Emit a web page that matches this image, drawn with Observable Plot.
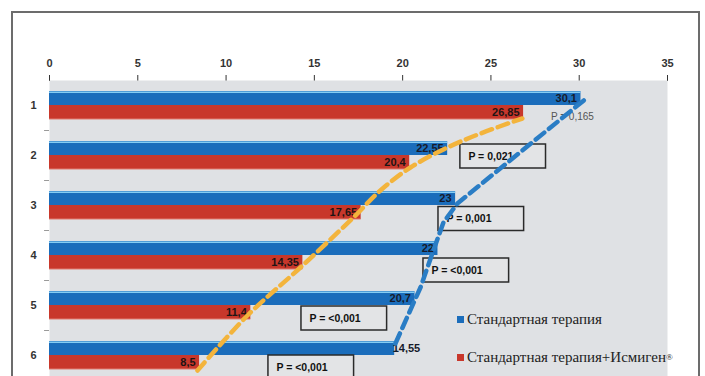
<!DOCTYPE html>
<html>
<head>
<meta charset="utf-8">
<script src="https://cdn.jsdelivr.net/npm/d3@7"></script>
<script src="https://cdn.jsdelivr.net/npm/@observablehq/plot@0.6"></script>
<style>
  html, body { margin: 0; padding: 0; overflow: hidden; background: #ffffff; }
  #wrap { position: relative; width: 705px; height: 376px; overflow: hidden; background: #ffffff; }
  #chart { position: absolute; left: 0; top: 0; }
  #frame { position: absolute; left: 11px; top: 11px; width: 689px; height: 420px; border: 2px solid #6c6c6c; box-sizing: border-box; pointer-events: none; }
  .lg { position: absolute; left: 457px; height: 20px; display: flex; align-items: center; font-family: "Liberation Serif", "Times New Roman", serif; font-size: 15px; color: #222; white-space: nowrap; }
  .sw { width: 7px; height: 7px; margin-right: 3px; display: inline-block; }
  sup { font-size: 9px; vertical-align: 5px; }
</style>
</head>
<body>
<div id="wrap">
  <div id="chart"></div>
  <div id="frame"></div>
  <div id="legend"></div>
</div>
<script>
// ---- data ----
const groups = [1, 2, 3, 4, 5, 6];
const seriesNames = ["Стандартная терапия", "Стандартная терапия+Исмиген"];
const seriesColors = ["#1b6dbb", "#c8372b"];
const standard = [30.1, 22.55, 23, 22, 20.7, 19.55];
const standardLabels = ["30,1", "22,55", "23", "22", "20,7", "14,55"];
const ismigen = [26.85, 20.4, 17.65, 14.35, 11.4, 8.5];
const ismigenLabels = ["26,85", "20,4", "17,65", "14,35", "11,4", "8,5"];
const xTicks = [0, 5, 10, 15, 20, 25, 30, 35];
const pValues = ["P = 0,165", "P = 0,021", "P = 0,001", "P = <0,001", "P = <0,001", "P = <0,001"];
const pAnchorX = [28.4, 23.27, 22.03, 21.18, 14.27, 12.40];
const pAnchorY = [1.22, 2.02, 3.27, 4.3, 5.26, 6.24];
const pBoxed = [false, true, true, true, true, true];
const trendStandardX = [19.59, 21.01, 21.74, 22.31, 23.10, 30.46];
const trendStandardY = [5.76, 4.64, 3.9, 3.34, 2.96, 0.84];
const trendIsmigenX = [8.38, 11.21, 14.21, 17.21, 18.74, 20.44, 22.54, 24.41, 26.78];
const trendIsmigenY = [6.3, 5.2, 4.24, 3.24, 2.7, 2.24, 1.84, 1.56, 1.26];

// ---- tables built from the arrays ----
const rows = groups.map((g, i) => ({
  g, std: standard[i], stdLabel: standardLabels[i], ism: ismigen[i], ismLabel: ismigenLabels[i], last: i === groups.length - 1
}));
const bounds = groups.map(g => g + 0.5);
const pRows = pValues.map((t, i) => ({ t, x: pAnchorX[i], y: pAnchorY[i], boxed: pBoxed[i] }));
const stdTrend = trendStandardX.map((x, i) => ({ x, y: trendStandardY[i] }));
const ismTrend = trendIsmigenX.map((x, i) => ({ x, y: trendIsmigenY[i] }));
const BAR = 0.28, BOXW = 4.85, BOXH = 0.48;

const chart = Plot.plot({
  width: 705,
  height: 400,
  marginTop: 80,
  marginBottom: 20,
  marginLeft: 49,
  marginRight: 38,
  style: { fontFamily: "'Liberation Sans', Arial, sans-serif", fontWeight: "bold", fontSize: "11px", color: "#333", background: "transparent", overflow: "visible" },
  x: { domain: [0, 35], axis: "top", ticks: xTicks, tickSize: 6, tickPadding: 8, label: null },
  y: { domain: [0.5, 6.5], reverse: true, ticks: groups, tickSize: 0, tickPadding: 13, label: null, tickFormat: d => String(d) },
  marks: [
    Plot.frame({ fill: "#dfe1e4", stroke: null }),
    Plot.ruleY(bounds, { y: d => d, x1: -0.28, x2: 0, stroke: "#9a9a9a" }),
    Plot.rect(rows, { x1: 0, x2: "std", y1: d => d.g - BAR, y2: "g", fill: seriesColors[0] }),
    Plot.rect(rows, { x1: 0, x2: "ism", y1: "g", y2: d => d.g + BAR, fill: seriesColors[1] }),
    Plot.ruleY(rows, { y: d => d.g - BAR + 0.015, x1: 0, x2: "std", stroke: "#86cdf3", strokeWidth: 1.5 }),
    Plot.ruleY(rows, { y: d => d.g + BAR - 0.01, x1: 0, x2: "ism", stroke: "#e07a6e", strokeWidth: 1 }),
    Plot.text(rows.filter(d => !d.last), { x: "std", y: d => d.g - BAR / 2, text: "stdLabel", textAnchor: "end", dx: -4, fill: "#161a2a", fontSize: 11 }),
    Plot.text(rows.filter(d => d.last), { x: "std", y: d => d.g - BAR / 2, text: "stdLabel", textAnchor: "start", dx: -2, fill: "#161a2a", fontSize: 11 }),
    Plot.text(rows, { x: "ism", y: d => d.g + BAR / 2, text: "ismLabel", textAnchor: "end", dx: -4, fill: "#1e1414", fontSize: 11 }),
    Plot.rect(pRows.filter(d => d.boxed), { x1: "x", x2: d => d.x + BOXW, y1: d => d.y - BOXH / 2, y2: d => d.y + BOXH / 2, fill: "#e3e4e6", stroke: "#2a2a2a", strokeWidth: 1.5 }),
    Plot.text(pRows.filter(d => d.boxed), { x: "x", y: "y", text: "t", textAnchor: "start", dx: 8, fill: "#111", fontSize: 10.5 }),
    Plot.text(pRows.filter(d => !d.boxed), { x: "x", y: "y", text: "t", textAnchor: "start", fill: "#555", fontSize: 10, fontWeight: "normal" }),
    Plot.line(ismTrend, { x: "x", y: "y", curve: "catmull-rom", stroke: "#f3b43c", strokeWidth: 4.5, strokeDasharray: "11,6" }),
    Plot.line(stdTrend, { x: "x", y: "y", stroke: "#2a7dc5", strokeWidth: 4.5, strokeDasharray: "11,6" })
  ]
});
document.getElementById("chart").appendChild(chart);

// legend
const legend = document.getElementById("legend");
const legendTops = [309, 347];
seriesNames.forEach((name, i) => {
  const row = document.createElement("div");
  row.className = "lg";
  row.style.top = legendTops[i] + "px";
  const sw = document.createElement("span");
  sw.className = "sw";
  sw.style.background = seriesColors[i];
  row.appendChild(sw);
  const t = document.createElement("span");
  t.textContent = name;
  row.appendChild(t);
  if (i === 1) {
    const s = document.createElement("sup");
    s.textContent = "®";
    row.appendChild(s);
  }
  legend.appendChild(row);
});
</script>
</body>
</html>
